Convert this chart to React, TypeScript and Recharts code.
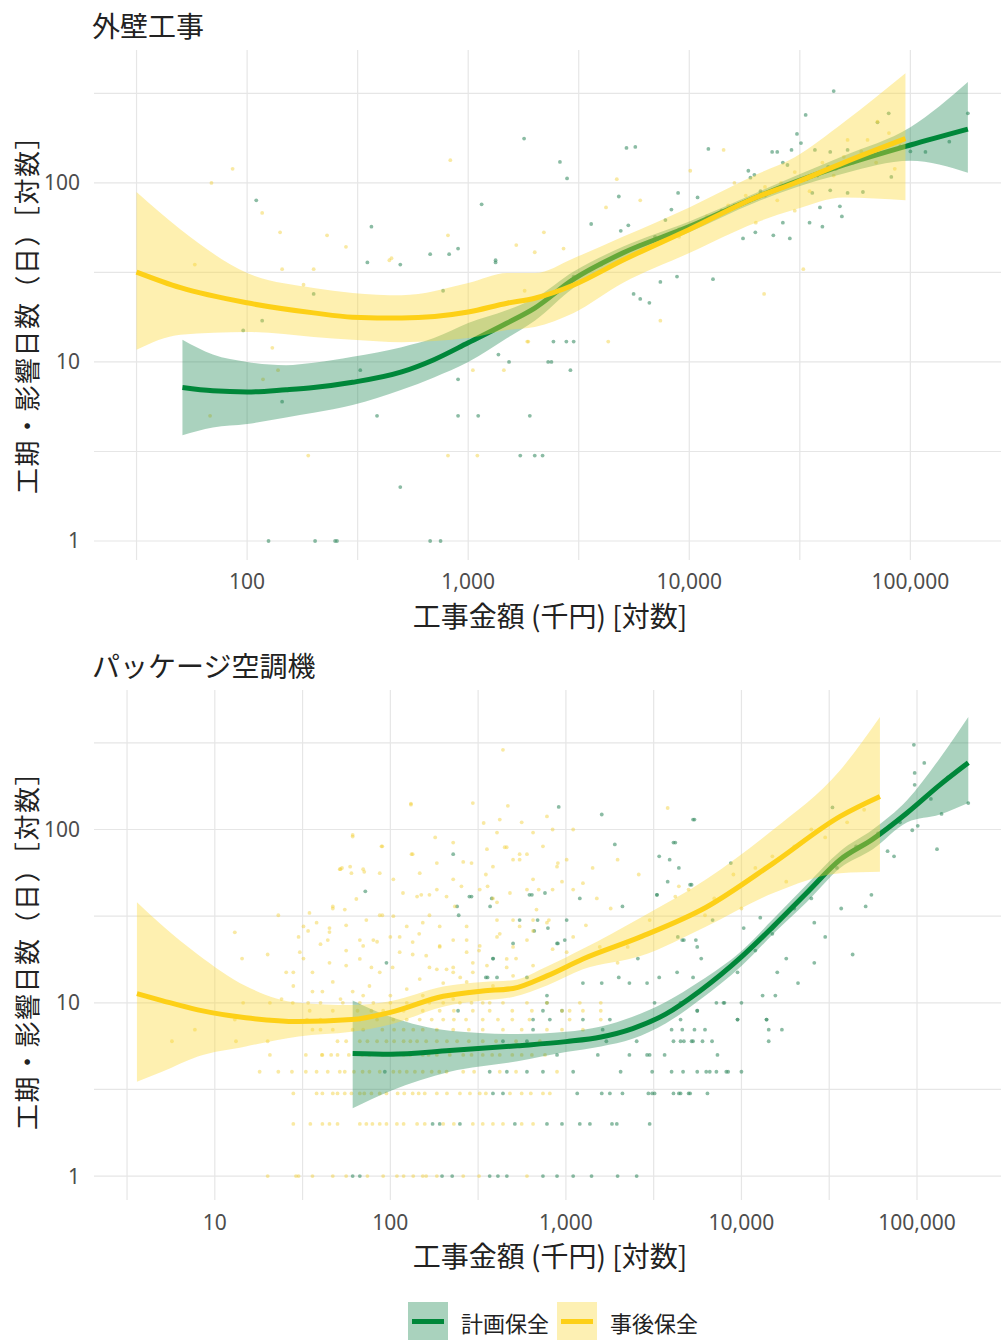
import React from 'react';
import { ComposedChart, XAxis, YAxis, Area, Line, Scatter, ReferenceLine } from 'recharts';

// ---------- labels ----------
const titleTop = '外壁工事';
const titleBottom = 'パッケージ空調機';
const yTitle = '工期・影響日数（日）［対数］';
const xTitle = '工事金額 (千円) [対数]';
const seriesNames = ['計画保全', '事後保全'];

// ---------- axes ----------
const topXDomain = [20.3, 257000];
const topYDomain = [0.783, 553];
const topXTicks = [31.62, 100, 316.2, 1000, 3162, 10000, 31623, 100000];
const botXDomain = [2.05, 301000];
const botYDomain = [0.728, 638];
const botXTicks = [3.162, 10, 31.62, 100, 316.2, 1000, 3162, 10000, 31623, 100000];
const yTicks = [1, 3.162, 10, 31.62, 100, 316.2];

// ---------- 外壁工事 smooth fits: [x, fit, lower, upper] ----------
const wallPlannedFit: [number, number, number, number][] = [
  [51, 7.2, 3.9, 13.3], [70, 6.9, 4.3, 11.0], [100, 6.8, 4.5, 10.0], [150, 7.0, 4.9, 9.6],
  [200, 7.2, 5.2, 9.9], [300, 7.7, 5.75, 10.7], [500, 8.8, 7.0, 12.1], [700, 10.3, 8.2, 13.6],
  [1000, 12.8, 10.0, 16.5], [1500, 16.5, 13.6, 19.5], [2000, 20, 17, 22.7], [3000, 29, 26, 32],
  [5000, 40.6, 37, 44], [10000, 57, 53, 61], [20000, 83, 78, 88], [30000, 101, 94, 109],
  [50000, 126, 113, 142], [100000, 163, 133, 205], [182000, 200, 114, 367],
];
const wallReactiveFit: [number, number, number, number][] = [
  [31.6, 31.8, 11.7, 89], [50, 26, 14.2, 55], [100, 21.4, 14.7, 31.4], [200, 18.8, 13.8, 25.9],
  [300, 17.8, 13.3, 24.3], [500, 17.6, 12.9, 23.6], [1000, 19.0, 13.6, 27.6], [1500, 21.3, 15.1, 31.4],
  [2000, 22.7, 15.7, 31.4], [3000, 26.9, 18.8, 38], [5000, 37, 27.6, 50], [10000, 55, 40.6, 73],
  [20000, 83, 60, 111], [30000, 100, 71, 139], [50000, 130, 83, 218], [95000, 177, 80, 410],
];

// ---------- 外壁工事 observations [x, y] ----------
const wallPlannedPts: [number, number][] = [
  [110, 80], [1150, 76], [365, 57], [350, 36], [493, 35], [673, 40], [820, 40], [900, 43], [1330, 37],
  [200, 24], [770, 25], [117, 17], [96, 15], [325, 9], [1370, 11], [1530, 10], [900, 8], [144, 6],
  [387, 5], [900, 5], [1110, 5], [1900, 5], [1720, 3], [2000, 3], [2170, 3], [493, 2], [125, 1],
  [203, 1], [250, 1], [255, 1], [673, 1], [750, 1], [1790, 177], [2300, 10], [2600, 131], [2800, 106],
  [5200, 157], [5700, 159], [12200, 155], [45000, 326], [33600, 240], [30700, 188], [32000, 167],
  [23700, 149], [25000, 149], [29000, 153], [26500, 130], [27800, 126], [18500, 117], [19700, 111],
  [18900, 107], [37000, 153], [43400, 149], [52000, 153], [42500, 123], [36000, 88], [43400, 91],
  [52000, 88], [61000, 89], [82000, 108], [71000, 218], [79800, 245], [117000, 149], [182000, 245],
  [39000, 73], [35000, 60], [40000, 57], [49000, 65], [48000, 74], [26500, 60], [24000, 51], [28500, 49],
  [19900, 53], [17500, 49], [12800, 29], [10900, 83], [8900, 88], [8300, 71], [7800, 62], [5300, 58],
  [4900, 54], [3600, 59], [4800, 84], [8800, 30], [7400, 28], [5600, 24], [6000, 22.5], [6600, 21.4],
  [1330, 36], [2430, 13], [2780, 13], [3000, 13], [2380, 10], [2900, 9], [3000, 30], [4000, 35],
  [6000, 45], [7000, 50], [9000, 55], [11000, 60], [14000, 70], [16000, 75], [21000, 90], [22000, 85],
  [34000, 105], [38000, 110], [46000, 120], [55000, 130], [65000, 140], [90000, 160], [100000, 150],
  [150000, 170],
];
const wallReactivePts: [number, number][] = [
  [86, 120], [69, 100], [117, 68], [141, 53], [230, 51], [280, 44], [144, 33], [200, 33], [440, 37],
  [830, 134], [810, 51], [1650, 45], [2200, 53], [2000, 41], [58, 35], [180, 27], [130, 12], [138, 9],
  [118, 8], [68, 5], [189, 3], [810, 3], [1100, 3], [1050, 9], [1450, 9], [1800, 25], [1870, 13],
  [450, 38], [4700, 105], [4200, 73], [2700, 43], [14300, 153], [10100, 117], [6000, 80], [32800, 33],
  [21800, 24], [7400, 17], [4300, 13], [1850, 13], [71000, 220], [52000, 174], [64000, 174], [9000, 50],
  [12000, 65], [15000, 75], [18000, 85], [22000, 95], [26000, 100], [30000, 115], [35000, 90],
  [40000, 130], [45000, 110], [50000, 140], [60000, 150], [70000, 130], [80000, 190], [90000, 170],
  [85000, 120], [30000, 70], [20000, 60], [16000, 100], [25000, 80],
];

// ---------- パッケージ空調機 smooth fits ----------
const pkgPlannedFit: [number, number, number, number][] = [
  [61, 5.1, 2.46, 10.3], [100, 5.05, 3.1, 8.3], [218, 5.3, 4.0, 6.9], [530, 5.65, 4.6, 6.6],
  [1000, 5.97, 5.2, 6.8], [1585, 6.35, 5.6, 7.3], [2400, 7.1, 6.2, 8.3], [3700, 8.6, 7.6, 10.1],
  [5800, 11.7, 10.4, 13.3], [10000, 18.4, 16.3, 19.9], [15200, 27.6, 25, 30.5], [23500, 43, 38, 48],
  [36500, 67, 60, 75], [56000, 88, 77, 100], [88000, 125, 110, 148], [135000, 181, 122, 258],
  [196000, 243, 142, 446],
];
const pkgReactiveFit: [number, number, number, number][] = [
  [3.6, 11.3, 3.5, 38], [5, 10.3, 4.0, 28], [8, 9.1, 4.9, 19], [15, 8.2, 5.6, 12.5], [30, 7.8, 6.4, 10],
  [60, 8.0, 6.8, 9.7], [100, 8.8, 7.5, 10.2], [200, 10.9, 9.5, 12.4], [336, 11.7, 10.3, 13.2],
  [500, 12.1, 10.8, 13.5], [780, 14.3, 12.6, 16.2], [1250, 17.9, 15.6, 20.5], [2660, 24, 18.6, 31],
  [6300, 35.6, 27.6, 51.6], [15200, 64, 43, 100], [36500, 119, 56, 220], [61500, 155, 57, 446],
];

// ---------- パッケージ空調機 observations ----------
// integer-day rows: [days, costs]
const pkgPlannedRows: [number, number[]][] = [
  [1, [61, 67, 197, 225, 368, 410, 461, 740, 890, 1100, 1400, 1970, 2530]],
  [2, [174, 191, 249, 512, 780, 950, 1200, 1370, 1830, 1950, 3000]],
  [3, [384, 438, 1160, 1600, 1780, 2100, 2950, 3200, 4100, 4400, 4500, 5000, 5100, 6400, 3100]],
  [4, [93, 368, 461, 600, 740, 1100, 2050, 3100, 4000, 4650, 5600, 6300, 7200, 8200, 10000, 6600, 8400]],
  [5, [890, 1520, 2300, 2900, 3650, 7300, 3000]],
  [6, [438, 600, 1700, 2530, 4100, 4500, 5300, 6000, 6800, 4700, 5200]],
  [7, [650, 1620, 4000, 4600, 5400, 6200]],
  [8, [650, 810, 1250, 1780, 4500, 9500, 13900]],
  [9, [243, 740, 950, 5600]],
  [10, [780, 3200, 4500, 7200, 7900, 8000, 10000]],
];
const pkgPlannedPts: [number, number][] = [
  [96000, 308], [110000, 242], [97000, 212], [97000, 181], [196000, 142], [138000, 123], [101000, 105],
  [94000, 99], [130000, 77], [74000, 70], [68000, 75], [33000, 134], [55000, 42], [37000, 35],
  [51000, 36], [43000, 19], [30000, 24], [26000, 17], [26000, 29], [21000, 13], [16000, 15], [18000, 18],
  [12800, 31], [10300, 27], [8700, 64], [5400, 114], [4200, 84], [3900, 67], [4400, 60], [5200, 48],
  [3300, 42], [3400, 70], [5500, 23], [5900, 18], [4600, 23], [2900, 13], [3400, 14], [4300, 15],
  [9500, 15], [13200, 11], [15600, 11], [5600, 9], [9500, 8], [13900, 8], [14300, 7], [17000, 7],
  [14300, 6], [910, 135], [1600, 122], [5300, 114], [228, 72], [1900, 82], [4100, 84], [72, 44],
  [290, 41], [620, 42], [760, 43], [3300, 42], [3800, 50], [5100, 48], [1200, 40], [2100, 36], [240, 36],
  [370, 36], [545, 30], [690, 30], [1010, 30], [6850, 30], [385, 18], [890, 22], [985, 23], [2570, 18],
  [4340, 24], [4700, 23], [5600, 21], [5300, 14], [2000, 14], [2300, 13], [1600, 13], [1250, 13],
  [600, 14], [95, 17], [350, 14], [282, 41], [245, 32], [12000, 20], [15000, 25], [20000, 35],
  [25000, 40], [35000, 60], [45000, 80], [60000, 95], [80000, 110], [120000, 150], [150000, 200],
  [378, 40], [790, 27], [640, 42], [660, 26], [500, 22], [384, 18], [358, 14], [405, 14], [900, 22],
  [780, 11],
];
const pkgReactiveRows: [number, number[]][] = [
  [1, [20, 30, 36, 47, 74, 91, 109, 119, 153, 184, 260, 600, 160, 29, 56, 135, 320]],
  [2, [28, 41, 45, 50, 67, 73, 79, 87, 95, 109, 119, 142, 157, 295, 336, 384, 438, 650, 35, 200, 230, 560]],
  [3, [38, 41, 47, 55, 67, 71, 87, 95, 110, 134, 157, 184, 249, 284, 323, 560, 631, 740, 810, 28, 50, 60, 78, 120, 145, 210, 350, 480]],
  [4, [18, 23, 27.5, 33, 44, 51.5, 55, 69.5, 76, 87, 104, 124, 153, 172, 209, 260, 890, 38, 62, 113, 138, 190, 300, 420, 520]],
  [5, [20.6, 33, 40.7, 46, 50, 69, 76, 90, 104, 119, 153, 184, 218, 260, 336, 420, 495, 640, 41, 58, 130, 165, 290, 380, 560, 760]],
  [6, [5.7, 13.2, 20, 50, 67, 74, 84, 95, 119, 142, 184, 240, 336, 710, 56, 105, 130, 160, 210, 280, 400, 520]],
  [7, [7.7, 36, 40, 47, 61, 119, 153, 184, 228, 336, 438, 780, 950, 1250, 70, 90, 105, 135, 280, 560]],
  [8, [13, 20.6, 33.5, 40, 47, 67, 84, 104, 124, 147, 172, 200, 270, 336, 410, 495, 1050, 1580, 57, 230, 620]],
  [9, [34.7, 47, 65, 91, 119, 153, 191, 295, 368, 495, 950, 1050, 1250, 1580, 78, 230, 640]],
  [10, [14.5, 20.6, 27.8, 34, 40, 53.6, 67, 100, 124, 167, 200, 249, 336, 438, 600, 1200, 1580, 80, 145, 290, 780]],
];
const pkgReactivePts: [number, number][] = [
  [438, 288], [131, 141], [295, 142], [467, 137], [3800, 133], [61, 93], [228, 84], [132, 72], [448, 79],
  [545, 72], [600, 72], [53, 60], [71, 57], [87, 56], [118, 43], [150, 42], [405, 38], [900, 64],
  [1250, 49], [1420, 60], [1970, 67], [4200, 41], [4400, 47], [47, 35], [90, 32], [167, 32], [384, 40],
  [6200, 32], [30, 24], [38, 29], [45, 27], [67, 23], [84, 22.5], [113, 24], [146, 25], [191, 21],
  [272, 23], [500, 21], [1560, 21], [1970, 17], [2250, 21], [25.5, 15], [32, 18], [45, 17],
  [56, 20], [78, 16], [103, 16], [134, 19], [167, 16], [228, 16], [295, 17], [460, 16], [28, 12.5],
  [36, 11.6], [52, 10.5], [70, 11], [153, 11], [228, 10.5], [280, 11.6], [368, 10], [23, 32],
  [13, 25.5], [14.3, 18], [20, 19], [61, 91], [59, 61], [52, 59], [90, 80], [134, 72], [131, 139],
  [34, 26], [44, 23], [56, 28], [5000, 45], [7000, 40], [9000, 55], [12000, 60], [15000, 70],
  [20000, 80], [25000, 100], [30000, 90], [40000, 110], [50000, 130], [18000, 50], [10000, 35],
  [200, 13], [250, 14], [320, 20], [420, 25], [520, 18], [650, 26], [800, 30], [1100, 24], [1300, 28],
  [1800, 35], [700, 45], [950, 50], [1500, 40], [350, 55], [260, 65], [180, 90], [560, 110], [1100, 100],
  [2600, 55], [3000, 30],
  [51.5, 59], [60, 56], [70, 59], [89, 80], [47, 36], [55, 34.5], [87, 32], [142, 41], [167, 42],
  [184, 45], [209, 41], [233, 36], [254, 47], [290, 64], [323, 45], [358, 47], [405, 96], [460, 79],
  [500, 67], [600, 45], [680, 34.5], [480, 43], [545, 27.6], [600, 23], [840, 45], [890, 61], [1010, 67],
  [1100, 45], [405, 24], [323, 21.3], [272, 19.6], [228, 23], [191, 21.3], [160, 18.7], [134, 22.4],
  [113, 19.6], [100, 24], [80, 23], [70, 21.3], [67, 17.9], [56, 16.4], [45, 25.6], [40, 21.8],
  [32, 27.6], [36, 15], [28, 15], [47, 13.2], [76, 12.5], [87, 15], [147, 13.7], [184, 15.6], [228, 15],
  [272, 13.2], [355, 16.4], [460, 17.9], [500, 14.3], [650, 16.4], [840, 20.4], [1010, 19.6], [780, 29],
  [650, 30], [500, 30], [405, 30], [272, 27.6], [191, 27.6], [153, 29], [124, 27.6], [104, 31.6],
  [73, 30], [64, 39.7], [34.6, 33], [104, 51.6], [147, 56], [184, 64], [228, 51.6], [384, 61], [355, 77],
  [650, 51.6], [740, 80], [545, 67], [420, 114], [340, 109], [840, 100], [780, 119], [650, 96],
  [209, 15.6], [295, 15], [384, 12.5], [124, 12], [100, 11], [61, 11.6], [41, 11.6], [24, 10.5],
  [30.5, 19.6],
];

// ---------- styles ----------
const GREEN = '#00873a';
const YELLOW = '#fdd017';
const GREEN_BAND = '#1f8a55';
const YELLOW_BAND = '#fcd93a';
const GRID = '#e6e6e6';
const CJK = '"Noto Sans CJK JP", "Noto Sans", sans-serif';

const toCurve = (c: [number, number, number, number][]) =>
  c.map(([x, y, lo, hi]) => ({ x, y, band: [lo, hi] }));
const toPts = (p: [number, number][]) => p.map(([x, y]) => ({ x, y }));
const fromRows = (rows: [number, number[]][]) => rows.flatMap(([y, xs]) => xs.map((x) => ({ x, y })));

const isPow10 = (v: number) => Math.abs(Math.log10(v) - Math.round(Math.log10(v))) < 1e-6;
const fmt = (v: number) => (isPow10(v) ? Math.round(v).toLocaleString('en-US') : '');

const makeDot = (fill: string, op: number) => (props: any) =>
  props.cx == null ? <g /> : <circle cx={props.cx} cy={props.cy} r={1.9} fill={fill} fillOpacity={op} />;
const greenDot = makeDot('#3d8f68', 0.6);
const yellowDot = makeDot('#f2cf33', 0.45);

type PanelProps = {
  xDomain: number[];
  yDomain: number[];
  xTicks: number[];
  planned: { x: number; y: number }[];
  reactive: { x: number; y: number }[];
  plannedFit: any[];
  reactiveFit: any[];
  tickMargin: number;
};

function Panel(p: PanelProps) {
  const tickStyle = { fontSize: 21, fill: '#4d4d4d', fontFamily: '"Noto Sans", sans-serif' };
  return (
    <ComposedChart width={1001} height={640} margin={{ top: 50, right: 0, bottom: 0, left: 0 }}>
      <XAxis
        dataKey="x"
        type="number"
        scale="log"
        domain={p.xDomain}
        allowDataOverflow
        ticks={p.xTicks}
        interval={0}
        tickFormatter={fmt}
        axisLine={false}
        tickLine={false}
        tickSize={0}
        tickMargin={p.tickMargin}
        height={80}
        tick={tickStyle}
      />
      <YAxis
        type="number"
        scale="log"
        domain={p.yDomain}
        allowDataOverflow
        ticks={yTicks}
        interval={0}
        tickFormatter={fmt}
        axisLine={false}
        tickLine={false}
        tickSize={0}
        tickMargin={14}
        width={94}
        tick={tickStyle}
      />
      {yTicks.map((t) => (
        <ReferenceLine key={'h' + t} y={t} stroke={GRID} strokeWidth={1.2} zIndex={-100} />
      ))}
      {p.xTicks.map((t) => (
        <ReferenceLine key={'v' + t} x={t} stroke={GRID} strokeWidth={1.2} zIndex={-100} />
      ))}
      <Scatter data={p.planned} dataKey="y" shape={greenDot} isAnimationActive={false} zIndex={50} />
      <Scatter data={p.reactive} dataKey="y" shape={yellowDot} isAnimationActive={false} zIndex={51} />
      <Area data={p.plannedFit} dataKey="band" type="monotone" stroke="none" fill={GREEN_BAND} fillOpacity={0.38} isAnimationActive={false} zIndex={101} />
      <Line data={p.plannedFit} dataKey="y" type="monotone" stroke={GREEN} strokeWidth={5} dot={false} isAnimationActive={false} zIndex={102} />
      <Area data={p.reactiveFit} dataKey="band" type="monotone" stroke="none" fill={YELLOW_BAND} fillOpacity={0.4} isAnimationActive={false} zIndex={103} />
      <Line data={p.reactiveFit} dataKey="y" type="monotone" stroke={YELLOW} strokeWidth={5} dot={false} isAnimationActive={false} zIndex={104} />
    </ComposedChart>
  );
}

const abs = (s: React.CSSProperties): React.CSSProperties => ({ position: 'absolute', whiteSpace: 'nowrap', ...s });

function YLabel({ cy }: { cy: number }) {
  return (
    <div style={abs({ left: 26, top: cy, fontSize: 26, letterSpacing: 1.5, lineHeight: '30px', color: '#222', transform: 'translate(-50%, -50%) rotate(-90deg)' })}>
      {yTitle}
    </div>
  );
}
function XLabel({ cy }: { cy: number }) {
  return (
    <div style={abs({ left: 550, top: cy, fontSize: 28, lineHeight: '20px', color: '#222', transform: 'translate(-50%, -50%)' })}>
      {xTitle}
    </div>
  );
}

function LegendKey({ left, band, line, label }: { left: number; band: string; line: string; label: string }) {
  return (
    <>
      <div style={abs({ left, top: 1302, width: 40, height: 40, background: band })}>
        <div style={{ position: 'absolute', left: 4, right: 4, top: 17, height: 5, background: line }} />
      </div>
      <div style={abs({ left: left + 53, top: 1308, fontSize: 22, lineHeight: '28px', color: '#222' })}>{label}</div>
    </>
  );
}

export default function App() {
  return (
    <div style={{ position: 'absolute', left: 0, top: 0, width: 1001, height: 1340, background: '#fff', fontFamily: CJK, overflow: 'hidden' }}>
      <div style={abs({ left: 0, top: 0 })}>
        <Panel
          xDomain={topXDomain}
          yDomain={topYDomain}
          xTicks={topXTicks}
          planned={toPts(wallPlannedPts)}
          reactive={toPts(wallReactivePts)}
          plannedFit={toCurve(wallPlannedFit)}
          reactiveFit={toCurve(wallReactiveFit)}
          tickMargin={14}
        />
      </div>
      <div style={abs({ left: 0, top: 640 })}>
        <Panel
          xDomain={botXDomain}
          yDomain={botYDomain}
          xTicks={botXTicks}
          planned={[...fromRows(pkgPlannedRows), ...toPts(pkgPlannedPts)]}
          reactive={[...fromRows(pkgReactiveRows), ...toPts(pkgReactivePts)]}
          plannedFit={toCurve(pkgPlannedFit)}
          reactiveFit={toCurve(pkgReactiveFit)}
          tickMargin={15}
        />
      </div>
      <div style={abs({ left: 92, top: 8, fontSize: 28, lineHeight: '34px', color: '#222' })}>{titleTop}</div>
      <div style={abs({ left: 92, top: 648, fontSize: 28, lineHeight: '34px', color: '#222' })}>{titleBottom}</div>
      <YLabel cy={308} />
      <YLabel cy={944} />
      <XLabel cy={615} />
      <XLabel cy={1255} />
      <LegendKey left={408} band="#a9d2bd" line={GREEN} label={seriesNames[0]} />
      <LegendKey left={557} band="#fdf0b3" line={YELLOW} label={seriesNames[1]} />
    </div>
  );
}
